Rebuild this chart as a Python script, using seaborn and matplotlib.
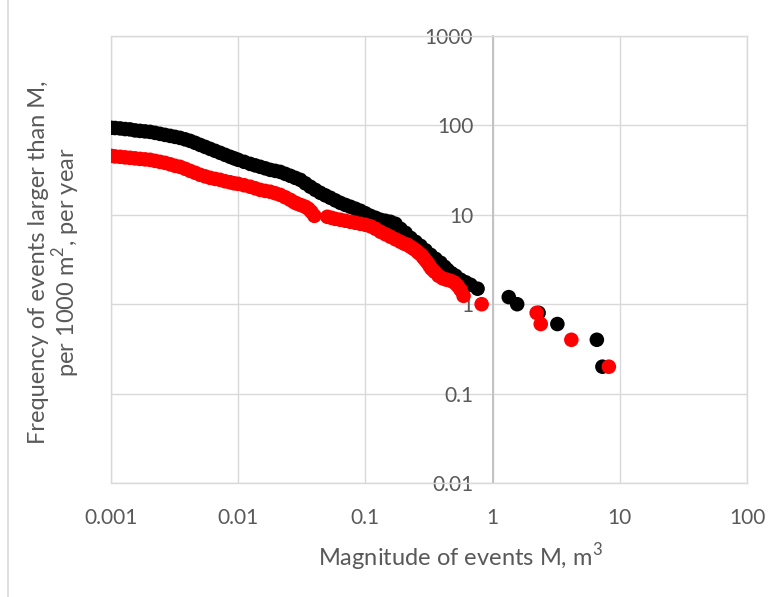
import pandas as pd
import seaborn as sns
import matplotlib.pyplot as plt
from matplotlib.lines import Line2D

# values (log-log frequency-magnitude curves)
black_x = [0.001, 0.001075, 0.00118, 0.00129, 0.00141, 0.001545, 0.00169, 0.001852, 0.00203, 0.00222,
           0.00243, 0.00266, 0.00292, 0.00319, 0.00349, 0.00383, 0.00419, 0.00459, 0.00502, 0.0055,
           0.00602, 0.00659, 0.00722, 0.0079, 0.00865, 0.0093, 0.0100, 0.01115, 0.01243, 0.0136,
           0.0149, 0.01632, 0.01787, 0.01956, 0.0214, 0.02345, 0.02567, 0.0281, 0.03077, 0.0337,
           0.03689, 0.0404, 0.04422, 0.0484, 0.053, 0.058, 0.0635, 0.0696, 0.0762, 0.0834,
           0.0913, 0.1, 0.1095, 0.12, 0.1313, 0.1437, 0.1574, 0.1723, 0.1886, 0.2065,
           0.2261, 0.2476, 0.2711, 0.2968, 0.325, 0.3557, 0.3896, 0.4188, 0.4421, 0.4756,
           0.5114, 0.5598, 0.6131, 0.671, 0.7617,
           1.34, 1.56, 2.3, 3.23, 6.6, 7.3]
black_y = [94.0, 93.5, 92.5, 91.0, 90.2, 87.9, 86.8, 85.7, 84.6, 82.5,
           80.4, 78.3, 76.3, 74.4, 72.5, 69.8, 67.1, 63.8, 60.5, 57.5,
           54.6, 51.9, 49.3, 46.8, 44.5, 42.8, 41.2, 39.1, 37.1, 35.7,
           34.4, 33.1, 31.8, 31.0, 30.2, 28.7, 27.3, 25.9, 24.6, 22.5,
           20.6, 19.0, 17.6, 16.5, 15.5, 14.5, 13.6, 12.9, 12.3, 11.7,
           11.1, 10.4, 9.74, 9.26, 8.8, 8.57, 8.35, 7.93, 6.98, 6.29,
           5.53, 4.99, 4.5, 4.01, 3.57, 3.22, 2.91, 2.62, 2.42, 2.22,
           2.08, 1.88, 1.76, 1.65, 1.49,
           1.2, 1.0, 0.8, 0.6, 0.4, 0.2]

red_x = [0.001, 0.001075, 0.00118, 0.00129, 0.00141, 0.001545, 0.00169, 0.001852, 0.00203, 0.00222,
         0.00243, 0.00266, 0.00292, 0.00319, 0.00349, 0.00383, 0.00419, 0.00459, 0.00502, 0.0055,
         0.00602, 0.00659, 0.00722, 0.0079, 0.00865, 0.0093, 0.0100, 0.01115, 0.01243, 0.0136,
         0.0149, 0.01632, 0.01787, 0.01956, 0.0214, 0.02345, 0.02567, 0.0276, 0.02915, 0.0313,
         0.0337, 0.0356, 0.0376, 0.0397,
         0.0502, 0.054, 0.058, 0.0635, 0.0696, 0.0762, 0.0834, 0.0913, 0.1, 0.1095,
         0.12, 0.1313, 0.1437, 0.1574, 0.1723, 0.1886, 0.2028, 0.2141, 0.2261, 0.2388,
         0.2521, 0.2614, 0.276, 0.2862, 0.2968, 0.3077, 0.3191, 0.3309, 0.3494, 0.3756,
         0.404, 0.4344, 0.467, 0.502, 0.5303, 0.5598, 0.5911,
         0.82, 2.22, 2.39, 4.16, 8.2]
red_y = [45.6, 45.0, 44.5, 43.9, 43.4, 42.8, 42.2, 41.7, 41.2, 40.1,
         39.1, 38.1, 36.7, 35.3, 34.4, 32.7, 31.0, 29.5, 28.0, 26.9,
         25.9, 25.2, 24.6, 23.7, 23.1, 22.5, 22.2, 21.4, 20.6, 19.8,
         19.0, 18.5, 18.1, 17.4, 16.7, 15.7, 14.7, 13.8, 13.3, 12.8,
         12.3, 11.7, 10.8, 9.74,
         9.5, 9.26, 9.0, 8.8, 8.57, 8.35, 8.14, 7.93, 7.73, 7.44,
         6.98, 6.46, 6.06, 5.68, 5.32, 4.99, 4.74, 4.62, 4.39, 4.17,
         3.96, 3.76, 3.53, 3.31, 3.10, 2.91, 2.69, 2.49, 2.31, 2.08,
         1.95, 1.88, 1.83, 1.74, 1.61, 1.45, 1.24,
         1.0, 0.8, 0.6, 0.4, 0.2]

x_ticks = [0.001, 0.01, 0.1, 1, 10, 100]
x_tick_labels = ['0.001', '0.01', '0.1', '1', '10', '100']
y_ticks = [0.01, 0.1, 1, 10, 100, 1000]
y_tick_labels = ['0.01', '0.1', '1', '10', '100', '1000']

df = pd.DataFrame({
    'magnitude': black_x + red_x,
    'frequency': black_y + red_y,
    'series': ['black'] * len(black_x) + ['red'] * len(red_x),
})

sns.set_style('white')
plt.rcParams['font.family'] = ['Lato', 'DejaVu Sans']
plt.rcParams['mathtext.fontset'] = 'custom'
plt.rcParams['mathtext.rm'] = 'Lato'

fig = plt.figure(figsize=(7.84, 5.97), dpi=100)
ax = fig.add_axes([111 / 784, 1 - 483 / 597, 636 / 784, 447 / 597])

sns.scatterplot(data=df, x='magnitude', y='frequency', hue='series',
                palette={'black': '#000000', 'red': '#ff0000'}, hue_order=['black', 'red'],
                s=110, linewidth=0, legend=False, ax=ax, zorder=3)

ax.set_xscale('log')
ax.set_yscale('log')
ax.set_xlim(0.001, 100)
ax.set_ylim(0.01, 1000)
ax.set_xticks(x_ticks, x_tick_labels)
ax.set_yticks(y_ticks, y_tick_labels)
ax.minorticks_off()
ax.set_axisbelow(True)
ax.grid(True, which='major', color='#d9d9d9', linewidth=1)

for side in ['top', 'right', 'bottom']:
    ax.spines[side].set_color('#d9d9d9')
    ax.spines[side].set_linewidth(1)
ax.spines['left'].set_position(('data', 1))
ax.spines['left'].set_color('#bfbfbf')
ax.spines['left'].set_linewidth(1.3)
ax.axvline(0.001, color='#d9d9d9', linewidth=1, clip_on=False, zorder=0)

ax.tick_params(axis='both', length=0, labelsize=15, labelcolor='#595959')
ax.tick_params(axis='y', pad=14)
ax.tick_params(axis='x', pad=18)
ax.set_xlabel('')
ax.set_ylabel('')

fig.text(460 / 784, 1 - 557 / 597, 'Magnitude of events M, m$^{3}$', ha='center', va='center',
         fontsize=17, color='#595959')
fig.text(55 / 784, 1 - 262 / 597, 'Frequency of events larger than M,\nper 1000 m$^{2}$, per year',
         ha='center', va='center', rotation=90, fontsize=17, color='#595959',
         linespacing=1.05, multialignment='center')

fig.add_artist(Line2D([8 / 784, 8 / 784], [0, 1], color='#d9d9d9', linewidth=1.2))

fig.savefig('out.png', dpi=100, facecolor='white')
